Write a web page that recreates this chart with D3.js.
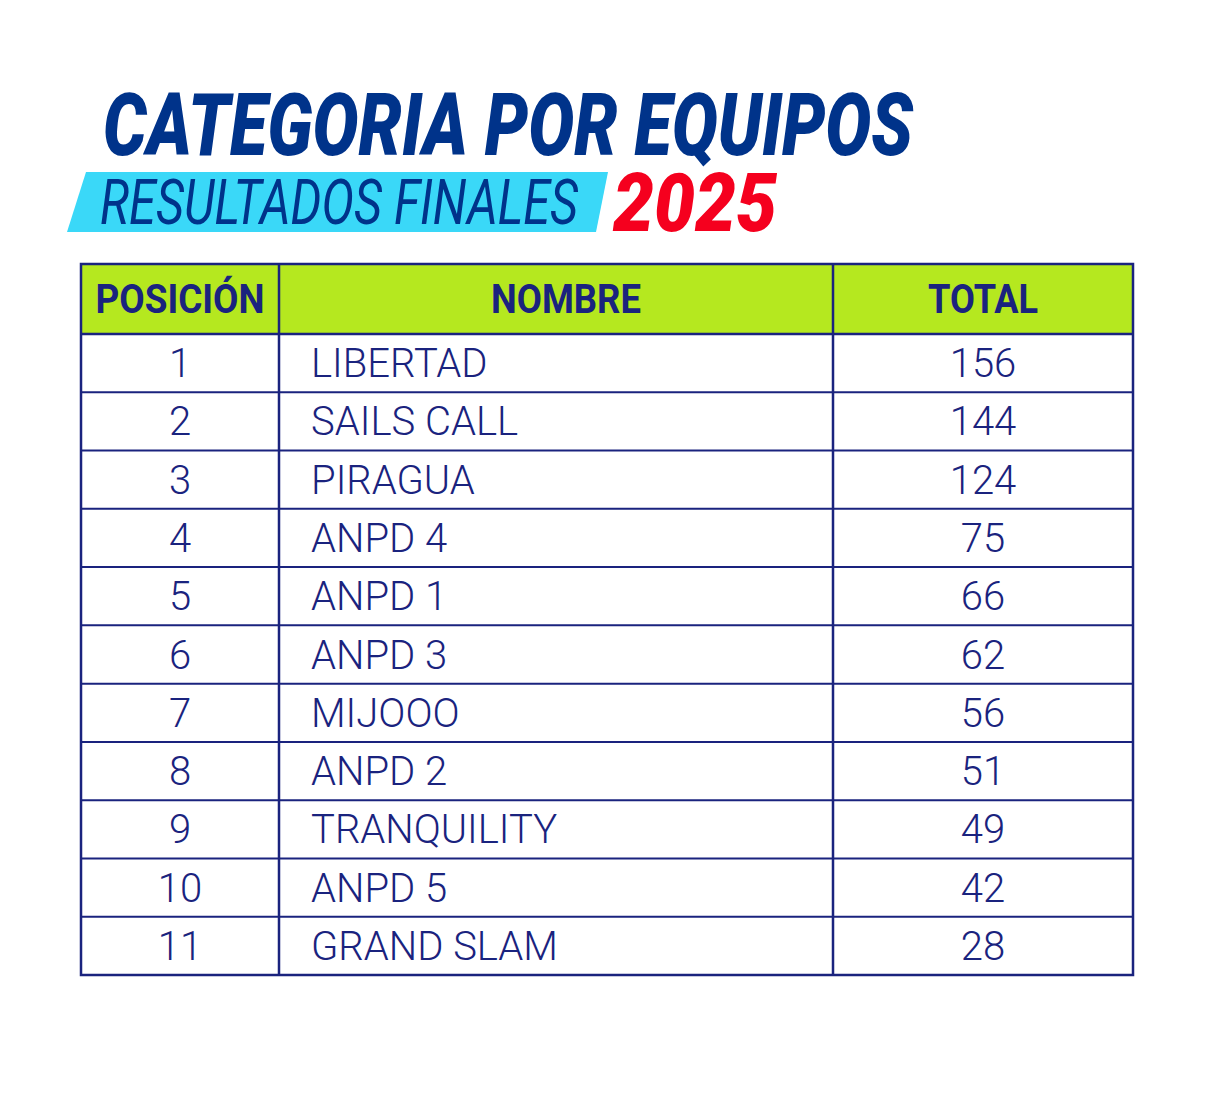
<!DOCTYPE html>
<html>
<head>
    <meta charset="utf-8">
    <title>categoria_por_equipos</title>
    <script src="https://d3js.org/d3.v7.min.js"></script>
    <style>
        body { margin: 0; background: #fff; }
        svg { display: block; }
    </style>
</head>
<body>
    <svg width="1214" height="1102"></svg>
    <script>
        // Table content
        var headers = ["POSICIÓN", "NOMBRE", "TOTAL"];
        var positions = [1, 2, 3, 4, 5, 6, 7, 8, 9, 10, 11];
        var names = ["LIBERTAD", "SAILS CALL", "PIRAGUA", "ANPD 4", "ANPD 1", "ANPD 3",
                     "MIJOOO", "ANPD 2", "TRANQUILITY", "ANPD 5", "GRAND SLAM"];
        var totals = [156, 144, 124, 75, 66, 62, 56, 51, 49, 42, 28];

        var navy = "#1a237e";
        var titleBlue = "#00338a";

        var svg = d3.select("svg");

        // ---- title block ----
        svg.append("text")
            .attr("x", 103).attr("y", 155)
            .attr("font-family", "Roboto").attr("font-weight", 900)
            .attr("font-style", "italic").attr("font-size", 87)
            .attr("textLength", 810).attr("lengthAdjust", "spacingAndGlyphs")
            .attr("fill", titleBlue)
            .text("CATEGORIA POR EQUIPOS");

        // cyan slanted band
        svg.append("path")
            .attr("d", "M86,172 L608,172 L596,232 L67,232 Z")
            .attr("fill", "#3ad8f8");

        svg.append("text")
            .attr("x", 100).attr("y", 224)
            .attr("font-family", "Roboto").attr("font-weight", 400)
            .attr("font-style", "italic").attr("font-size", 62)
            .attr("textLength", 478).attr("lengthAdjust", "spacingAndGlyphs")
            .attr("fill", titleBlue)
            .text("RESULTADOS FINALES");

        svg.append("text")
            .attr("x", 613).attr("y", 231)
            .attr("font-family", "Roboto").attr("font-weight", 900)
            .attr("font-style", "italic").attr("font-size", 82)
            .attr("textLength", 164).attr("lengthAdjust", "spacingAndGlyphs")
            .attr("fill", "#f5001e")
            .text("2025");

        // ---- table ----
        var colEdges = [81, 279, 833, 1133];
        var headerTop = 264, headerBottom = 334;

        // row index -> y of row top
        var y = d3.scaleLinear()
            .domain([0, names.length])
            .range([headerBottom, 975]);

        var rows = positions.map(function(p, i) {
            return { pos: p, name: names[i], total: totals[i], i: i };
        });

        // header background
        svg.append("rect")
            .attr("x", colEdges[0]).attr("y", headerTop)
            .attr("width", colEdges[3] - colEdges[0])
            .attr("height", headerBottom - headerTop)
            .attr("fill", "#b5e81f");

        var headerX = [180, 566, 983];
        var headerLen = [169, 150, 110];
        svg.selectAll("text.hdr")
            .data(headers)
            .enter().append("text")
            .attr("class", "hdr")
            .attr("x", function(d, i) { return headerX[i]; })
            .attr("y", 313)
            .attr("text-anchor", "middle")
            .attr("font-family", "Roboto").attr("font-weight", 700)
            .attr("font-size", 41)
            .attr("textLength", function(d, i) { return headerLen[i]; })
            .attr("lengthAdjust", "spacingAndGlyphs")
            .attr("fill", navy)
            .text(function(d) { return d; });

        var rowH = y(1) - y(0);
        var g = svg.selectAll("g.row")
            .data(rows)
            .enter().append("g")
            .attr("class", "row")
            .attr("transform", function(d) { return "translate(0," + (y(d.i) + rowH / 2 + 14) + ")"; });

        g.append("text")
            .attr("x", 180).attr("text-anchor", "middle")
            .text(function(d) { return d.pos; });
        g.append("text")
            .attr("x", 311)
            .text(function(d) { return d.name; });
        g.append("text")
            .attr("x", 983).attr("text-anchor", "middle")
            .text(function(d) { return d.total; });

        g.selectAll("text")
            .attr("font-family", "Roboto").attr("font-weight", 300)
            .attr("font-size", 40)
            .attr("fill", navy);

        // horizontal grid lines
        svg.selectAll("line.h")
            .data(d3.range(1, names.length))
            .enter().append("line")
            .attr("class", "h")
            .attr("x1", colEdges[0]).attr("x2", colEdges[3])
            .attr("y1", function(d) { return y(d); })
            .attr("y2", function(d) { return y(d); })
            .attr("stroke", navy).attr("stroke-width", 2);

        svg.append("line")
            .attr("x1", colEdges[0]).attr("x2", colEdges[3])
            .attr("y1", headerBottom).attr("y2", headerBottom)
            .attr("stroke", navy).attr("stroke-width", 2.5);

        // vertical column lines
        svg.selectAll("line.v")
            .data(colEdges.slice(1, 3))
            .enter().append("line")
            .attr("class", "v")
            .attr("x1", function(d) { return d; }).attr("x2", function(d) { return d; })
            .attr("y1", headerTop).attr("y2", 975)
            .attr("stroke", navy).attr("stroke-width", 2.5);

        // outer border
        svg.append("rect")
            .attr("x", colEdges[0]).attr("y", headerTop)
            .attr("width", colEdges[3] - colEdges[0])
            .attr("height", 975 - headerTop)
            .attr("fill", "none")
            .attr("stroke", navy).attr("stroke-width", 2.5);
    </script>
</body>
</html>
